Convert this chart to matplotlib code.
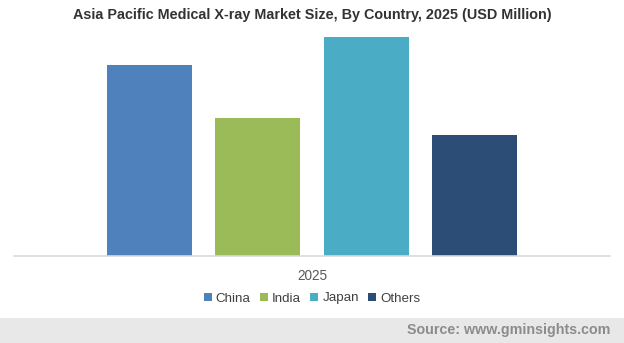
import matplotlib
matplotlib.use("Agg")
import matplotlib.pyplot as plt
from matplotlib.patches import Rectangle

plt.rcParams['font.family'] = ['Liberation Sans', 'DejaVu Sans']

categories = ["China", "India", "Japan", "Others"]
values = [191, 138, 219, 121]
colors = ["#4F81BD", "#9BBB59", "#4BACC6", "#2C4D75"]
year_label = "2025"

W, H = 624, 343
fig = plt.figure(figsize=(W / 100, H / 100), dpi=100)

# footer
fig.patches.append(Rectangle((0, 0), 1, 25 / H, transform=fig.transFigure,
                             facecolor="#E8E8E8", edgecolor="none", zorder=0))
fig.text(610 / W, 1 - 330 / H, "Source: www.gminsights.com", ha="right", va="center",
         fontsize=10.3, fontweight="bold", color="#8C8C8C")

left, right = 14 / W, 610 / W
bottom = 1 - 256 / H
top = 1 - 28 / H
ax = fig.add_axes([left, bottom, right - left, top - bottom])
x = list(range(len(categories)))
bars = ax.bar(x, values, width=85 / 108, color=colors, zorder=2)
half = (610 - 14) / 2 / 108
ax.set_xlim(1.5 - half, 1.5 + half)
ax.set_ylim(0, 228)
for s in ["top", "right", "left"]:
    ax.spines[s].set_visible(False)
ax.spines["bottom"].set_color("#D9D9D9")
ax.spines["bottom"].set_linewidth(1.2)
ax.set_yticks([])
ax.set_xticks([1.5])
ax.set_xticklabels([year_label], fontsize=9.8, color="#595959")
ax.tick_params(axis="x", length=0, pad=9)

fig.text(0.5, 1 - 15 / H, "Asia Pacific Medical X-ray Market Size, By Country, 2025 (USD Million)",
         ha="center", va="center", fontsize=10.4, fontweight="bold", color="#333333")

leg = fig.legend(bars, categories, loc="center", bbox_to_anchor=(0.5, 1 - 298.5 / H), ncol=4,
                 frameon=False, fontsize=9.6, handlelength=0.6, handleheight=0.6,
                 handletextpad=0.3, columnspacing=0.7, labelcolor="#404040")

fig.savefig("out.png", dpi=100)
